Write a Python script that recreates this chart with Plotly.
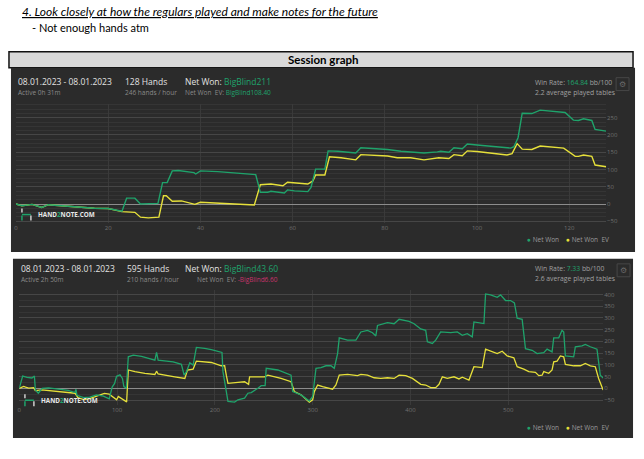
import plotly.graph_objects as go

W, H = 644, 459

GREEN = "#1fa36b"
YELLOW = "#e6e03a"
PANEL = "#2b2b2b"

# session 1: 128 hands
s1_won_hands = [0, 1.3, 3.5, 5.6, 7, 11.4, 17, 20, 23, 24, 25.8, 27, 30.8, 31.8, 32.8, 33.9, 35.2,
                38.6, 39, 40, 43.8, 52, 52.8, 53, 54.6, 55.3, 58.2, 58.9, 60.4, 63.3, 64, 65, 67,
                67.7, 69.8, 73.7, 74.8, 80.6, 83.5, 88.5, 91.4, 92.1, 93.9, 95, 96.8, 97.9, 100,
                107.3, 108, 108.9, 109.8, 111.9, 113.7, 116.6, 119.1, 120.9, 122, 123.1, 124.9,
                125.6, 128]
s1_won = [0, -5, -1, -10, -2, -7, -12, -13, -21, 17, 17, 0, 2, 62, 62, 96, 97,
          91, 87, 96, 94, 85, 48, 34, 34, 37, 32, 41, 38, 36, 48, 101, 101,
          154, 153, 148, 163, 158, 153, 148, 151, 153, 150, 163, 160, 174, 171,
          162, 166, 192, 263, 262, 272, 269, 265, 243, 242, 247, 242,
          216, 211]
s1_ev_hands = [0, 1.3, 3.5, 5.6, 7, 11.4, 17, 20, 23, 25.8, 27, 28.7, 31, 32, 32.6, 33.9, 35.9,
               38.8, 40, 51.7, 52.8, 53, 55.3, 57.9, 58.9, 63.3, 64.4, 65, 67, 68, 70.5, 73.7,
               74.8, 80.6, 82.7, 85.6, 88.5, 90.7, 91.7, 93.9, 95, 96.8, 97.9, 100, 106.5, 107.6,
               108.7, 109.8, 111.9, 113.7, 116.6, 118.8, 121.3, 122, 123.1, 124.9, 125.6, 128]
s1_ev = [0, -5, -1, -10, -2, -7, -12, -13, -22, -24, -38, -40, -38, 24, 24, 8, 9,
         -1, 5, -3, 53, 56, 58, 53, 63, 58, 67, 84, 84, 137, 134, 128,
         143, 139, 134, 134, 128, 131, 134, 132, 143, 140, 154, 152, 142, 146,
         175, 159, 158, 168, 165, 162, 138, 138, 142, 138, 113, 108]
s1_xticks = [0, 20, 40, 60, 80, 100, 120]
s1_yticks = [-50, 0, 50, 100, 150, 200, 250]

# session 2: 595 hands
s2_won_hands = [0, 2, 3.5, 8, 13, 15.5, 16.5, 19.5, 23.5, 30, 35, 41, 50, 57, 58, 59, 66, 72, 79,
                86, 92, 95, 97.5, 99.5, 103, 105.5, 107, 109.5, 111.5, 116.6, 125, 138.7, 140.4,
                142, 157.4, 165.8, 168.6, 171, 174.4, 177.8, 181.1, 189.6, 196.4, 207.3, 208.3,
                213.4, 220.2, 223.6, 230.4, 233.8, 237.2, 244, 247.4, 251.4, 252.5, 264.4, 277.9,
                279.6, 288.1, 296.6, 300, 303.4, 308.5, 313.6, 318.7, 322.1, 325.5, 327.2, 335.7,
                344.2, 345.9, 349.3, 356.1, 361.2, 364.6, 366.3, 376.5, 383.3, 388.4, 398.6, 403.7,
                410.5, 415.6, 417.3, 422.4, 425.8, 430.9, 441.1, 447.9, 453, 458.1, 463.2, 464.9,
                475.1, 476.8, 481.9, 488.7, 492.1, 497.2, 502.3, 506.3, 509.1, 514.2, 517.6, 524.4,
                529.5, 536.3, 539.7, 544.8, 546.5, 551.6, 555, 556.7, 558.4, 566.9, 568.6, 575.4,
                578.8, 583.9, 590.7, 594.1, 597]
s2_won = [0, 30, 52, 47, 44, 52, -7, -21, 0, 2, -1, -4, -9, -18, -4, -30, -40, -38, -28,
          -33, -45, 5, 21, 51, 57, 42, 7, 0, 134, 141, 136, 120, 153,
          120, 113, 102, 56, 71, 109, 99, 174, 170, 165, 153, 71,
          -56, -59, -49, -42, -21, -18, 0, 11, 11, 85, 78, 56,
          -14, -28, -54, -35, 85, 88, 96, 96, 85, 148, 215, 205,
          205, 215, 240, 247, 237, 223, 268, 280, 275, 294, 285, 275,
          253, 247, 198, 191, 205, 240, 237, 240, 226, 233, 219, 283,
          276, 402, 398, 388, 398, 374, 374, 364, 299, 294, 169, 162,
          148, 152, 167, 155, 215, 215, 247, 240, 138, 134, 177, 181,
          187, 177, 167, 56, 44]
s2_ev_hands = [0, 4.5, 6.5, 9.6, 14.7, 16.4, 23, 35, 45, 57, 60, 66, 72, 80, 87, 92, 97, 99.6,
               101.3, 106.4, 109.8, 111.5, 118.3, 128.5, 138.7, 140.4, 142, 159, 169.3, 172, 177.8,
               181.1, 193, 196.4, 206.6, 210, 211.7, 213.4, 223.6, 230.4, 234.5, 235.5, 250.8,
               254.2, 267.7, 277.9, 281.3, 288.1, 296.6, 300, 301.7, 305.1, 310.2, 315.3, 320.4,
               323.8, 327.2, 335.7, 345.9, 349.3, 356.1, 362.9, 369.7, 376.5, 383.3, 388.4, 395.2,
               402, 410.5, 415.6, 420.7, 425.8, 429.2, 432.6, 437.7, 444.5, 449.6, 453, 459.8,
               464.9, 473.4, 476.8, 481.9, 488.7, 493.8, 498.9, 505.7, 509.1, 515.9, 521, 527.8,
               531.2, 534.6, 536.3, 541.4, 544.8, 546.5, 549.9, 553.3, 556.7, 558.4, 566.9, 573.7,
               578.8, 583.9, 589, 592.4, 595.8, 597]
s2_ev = [0, 8, 5, 1, 3, -10, -7, -11, -14, -21, -40, -48, -44, -32, -22, -25, -42, -49,
         -35, -49, -58, 78, 71, 64, 59, 73, 61, 49, 42, 78, 82,
         116, 113, 110, 96, 96, 56, 21, 25, 28, 17, 49, 49,
         56, 42, 28, -14, -28, -59, -49, -14, 14, 7, 0, -4,
         14, 56, 59, 54, 59, 56, 45, 42, 45, 42, 56, 54,
         42, 17, 14, 3, 3, 17, 49, 42, 49, 40, 47, 35,
         92, 88, 167, 158, 148, 158, 138, 130, 92, 82, 71, 68,
         54, 56, 71, 64, 78, 113, 116, 138, 134, 102, 96, 96,
         106, 96, 92, 42, 7, -7]
s2_xticks = [0, 100, 200, 300, 400, 500]
s2_yticks = [-50, 0, 50, 100, 150, 200, 250, 300, 350, 400]


def px(x):
    return x / W


def py(y):
    return 1 - y / H


fig = go.Figure()

fig.add_trace(go.Scatter(x=s1_ev_hands, y=s1_ev, mode="lines", line=dict(color=YELLOW, width=1.4),
                         xaxis="x", yaxis="y", showlegend=False))
fig.add_trace(go.Scatter(x=s1_won_hands, y=s1_won, mode="lines", line=dict(color=GREEN, width=1.4),
                         xaxis="x", yaxis="y", showlegend=False))
fig.add_trace(go.Scatter(x=s2_ev_hands, y=s2_ev, mode="lines", line=dict(color=YELLOW, width=1.3),
                         xaxis="x2", yaxis="y2", showlegend=False))
fig.add_trace(go.Scatter(x=s2_won_hands, y=s2_won, mode="lines", line=dict(color=GREEN, width=1.3),
                         xaxis="x2", yaxis="y2", showlegend=False))

tickfont = dict(family="Open Sans", size=6, color="#707070")


def xax(domain, rng, ticks, anchor):
    return dict(domain=domain, range=rng, tickvals=ticks, anchor=anchor, showgrid=True,
                gridcolor="#3a3a3a", gridwidth=1, zeroline=False, showline=False,
                tickfont=tickfont, ticks="", fixedrange=True)


def yax(domain, rng, ticks, anchor, minor_step):
    return dict(domain=domain, range=rng, tickvals=ticks, anchor=anchor, side="right",
                showgrid=True, gridcolor="#464646", gridwidth=1,
                minor=dict(dtick=minor_step, tick0=0, showgrid=True, gridcolor="#353535", gridwidth=1),
                zeroline=True, zerolinecolor="#8c8c8c", zerolinewidth=1, showline=False,
                tickfont=tickfont, ticks="", fixedrange=True)


fig.update_layout(
    xaxis=xax([px(14), px(606)], [0, 128], s1_xticks, "y"),
    yaxis=yax([py(224), py(104)], [-55, 291], s1_yticks, "x", 12.5),
    xaxis2=xax([px(17.3), px(603)], [0, 597], s2_xticks, "y2"),
    yaxis2=yax([py(406.5), py(291)], [-70, 420], s2_yticks, "x2", 25),
)

shapes = [
    # header bar
    dict(type="rect", xref="paper", yref="paper", x0=px(7), x1=px(633), y0=py(68), y1=py(52),
         fillcolor="#d9d9d9", line=dict(color="#111111", width=1.5), layer="below"),
    # dark panels
    dict(type="rect", xref="paper", yref="paper", x0=px(9), x1=px(635), y0=py(253), y1=py(68),
         fillcolor=PANEL, line=dict(width=0), layer="below"),
    dict(type="rect", xref="paper", yref="paper", x0=px(11), x1=px(633), y0=py(440), y1=py(260),
         fillcolor=PANEL, line=dict(width=0), layer="below"),
    # settings buttons
    dict(type="rect", xref="paper", yref="paper", x0=px(616), x1=px(629), y0=py(91), y1=py(78),
         fillcolor="rgba(0,0,0,0)", line=dict(color="#474747", width=1)),
    dict(type="rect", xref="paper", yref="paper", x0=px(617), x1=px(630), y0=py(278), y1=py(265),
         fillcolor="rgba(0,0,0,0)", line=dict(color="#474747", width=1)),
]

# hand2note logo icons
for lx, ly in [(19, 215.5), (22, 402)]:
    shapes += [
        dict(type="line", xref="paper", yref="paper", x0=px(lx + 1), x1=px(lx + 1),
             y0=py(ly - 6), y1=py(ly - 2), line=dict(color="#cfcfcf", width=1.5)),
        dict(type="line", xref="paper", yref="paper", x0=px(lx + 1), x1=px(lx + 1),
             y0=py(ly + 1), y1=py(ly + 6), line=dict(color=GREEN, width=1.5)),
        dict(type="line", xref="paper", yref="paper", x0=px(lx + 1), x1=px(lx + 10),
             y0=py(ly), y1=py(ly), line=dict(color=GREEN, width=1.5)),
        dict(type="line", xref="paper", yref="paper", x0=px(lx + 10), x1=px(lx + 10),
             y0=py(ly + 1), y1=py(ly + 6), line=dict(color="#cfcfcf", width=1.5)),
    ]
fig.update_layout(shapes=shapes)

anns = []


def note(text, x, y, size, color, anchor="left", family="Open Sans", **kw):
    anns.append(dict(text=text, x=px(x), y=py(y), xref="paper", yref="paper", xanchor=anchor,
                     yanchor="middle", showarrow=False,
                     font=dict(family=family, size=size, color=color, **kw)))


note("4. Look closely at how the regulars played and make notes for the future", 18, 12, 12,
     "#000000", family="Lato", style="italic", lineposition="under")
note("- Not enough hands atm", 28, 28, 11, "#000000", family="Lato")
note("<b>Session graph</b>", 322, 60, 11.5, "#000000", anchor="center", family="Lato")


def g(t):
    return f"<span style='color:{GREEN}'>{t}</span>"


panels = [
    dict(top=0, dx=14, hands_x=121, right=272, date="08.01.2023 - 08.01.2023", active="Active 0h 31m",
         hands="128 Hands", rate="246 hands / hour", won="BigBlind211",
         ev="<span style='color:%s'>BigBlind108.40</span>" % GREEN,
         wr="164.84", tables="2.2 average played tables", gear=(622.5, 84.5),
         legend_y=241, logo=(34, 215.5)),
    dict(top=188, dx=17, hands_x=123, right=279, date="08.01.2023 - 08.01.2023", active="Active 2h 50m",
         hands="595 Hands", rate="210 hands / hour", won="BigBlind43.60",
         ev="<span style='color:#c8346c'>-BigBlind6.60</span>",
         wr="7.33", tables="2.6 average played tables", gear=(623.5, 271.5),
         legend_y=429, logo=(37, 402)),
]

for p in panels:
    t = p["top"]
    note(p["date"], p["dx"], 82 + t, 8.5, "#e2e2e2")
    note(p["active"], p["dx"], 93 + t, 6.5, "#8a8a8a")
    note(p["hands"], p["hands_x"], 82 + t, 8.5, "#e2e2e2")
    note(p["rate"], p["hands_x"], 93 + t, 6.5, "#8a8a8a")
    note("Net Won: " + g(p["won"]), p["right"], 82 + t, 8.5, "#e2e2e2", anchor="right")
    note("Net Won  EV: " + p["ev"], p["right"], 93 + t, 6.5, "#8a8a8a", anchor="right")
    note("Win Rate: " + g(p["wr"]) + " bb/100", 533, 83 + t - (1 if t else 0), 6.8, "#a0a0a0")
    note(p["tables"], 533, 93 + t - (1 if t else 0), 6.8, "#a0a0a0")
    note("⚙", p["gear"][0], p["gear"][1], 8, "#6a6a6a", anchor="center", family="DejaVu Sans")
    note(g("●") + " Net Won", 525, p["legend_y"], 6.5, "#9a9a9a")
    note(f"<span style='color:{YELLOW}'>●</span> Net Won  EV", 564, p["legend_y"], 6.5, "#9a9a9a")
    note("<b>HAND" + g("2") + "NOTE.COM</b>", p["logo"][0], p["logo"][1], 6.3, "#e8e8e8")

fig.update_layout(
    annotations=anns,
    width=W, height=H,
    margin=dict(l=0, r=0, t=0, b=0),
    paper_bgcolor="#ffffff",
    plot_bgcolor=PANEL,
    showlegend=False,
)

# page body margin would push the figure off by 8px
fig.write_html("out.html", config={"displayModeBar": False},
               post_script="document.body.style.margin='0';document.body.style.overflow='hidden';")
